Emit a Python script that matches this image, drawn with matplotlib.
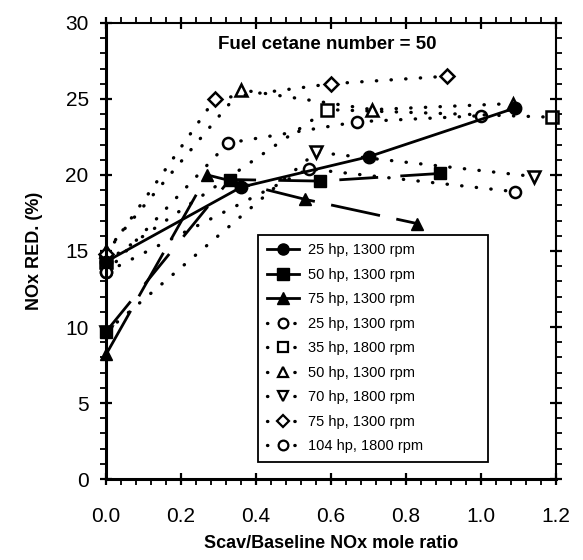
import numpy as np
from matplotlib import pyplot as plt
import matplotlib.lines as mlines
from matplotlib.ticker import MultipleLocator

plt.rcParams['font.family'] = ['Liberation Sans', 'DejaVu Sans']

# scav/baseline NOx mole ratio and NOx reduction (%) for each engine condition
x_25s = [0.0, 0.36, 0.70, 1.09]
y_25s = [14.3, 19.2, 21.2, 24.4]
x_50s = [0.0, 0.33, 0.57, 0.89]
y_50s = [9.7, 19.7, 19.6, 20.1]
x_75s = [0.0, 0.27, 0.53, 0.83]
y_75s = [8.2, 20.0, 18.4, 16.8]

x_25o = [0.0, 0.325, 0.67, 1.0]
y_25o = [13.6, 22.1, 23.5, 23.9]
x_35o = [0.0, 0.59, 1.19]
y_35o = [14.3, 24.3, 23.8]
x_50o = [0.0, 0.36, 0.71, 1.085]
y_50o = [15.0, 25.6, 24.3, 24.7]
x_70o = [0.0, 0.56, 1.14]
y_70o = [9.7, 21.5, 19.9]
x_75o = [0.0, 0.29, 0.60, 0.91]
y_75o = [14.8, 25.0, 26.0, 26.5]
x_104o = [0.0, 0.54, 1.09]
y_104o = [13.6, 20.4, 18.9]

fig = plt.figure(figsize=(5.83, 5.60), dpi=100)
ax = fig.add_axes([0.182, 0.1446, 0.772, 0.8144])

dot = dict(color='black', lw=2.4, linestyle=(0, (0.1, 4.3)), dash_capstyle='round',
           markerfacecolor='white', markeredgecolor='black', markeredgewidth=1.8,
           markersize=8, clip_on=False)
sol = dict(color='black', lw=2, markersize=9, clip_on=False)

# dotted (open symbols) first so the solid ones sit on top
ax.plot(x_25o, y_25o, marker='o', label='25 hp, 1300 rpm', **dot)
ax.plot(x_35o, y_35o, marker='s', label='35 hp, 1800 rpm', **dot)
ax.plot(x_50o, y_50o, marker='^', label='50 hp, 1300 rpm', **dot)
ax.plot(x_70o, y_70o, marker='v', label='70 hp, 1800 rpm', **dot)
ax.plot(x_75o, y_75o, marker='D', label='75 hp, 1300 rpm', **{**dot, 'markersize': 7})
ax.plot(x_104o, y_104o, marker='o', label='104 hp, 1800 rpm', **dot)

ax.plot(x_25s, y_25s, marker='o', linestyle='-', label='25 hp, 1300 rpm', **sol)
ax.plot(x_50s, y_50s, marker='s', linestyle=(0, (14, 8)), label='50 hp, 1300 rpm', **sol)
ax.plot(x_75s, y_75s, marker='^', linestyle=(0, (18, 6)), label='75 hp, 1300 rpm', **sol)

h, lab = ax.get_legend_handles_labels()
order = [6, 7, 8, 0, 1, 2, 3, 4, 5]
handles = []
for i in order:
    src = h[i]
    if i >= 6:
        hh = mlines.Line2D([], [], color='black', lw=2, marker=src.get_marker(), markersize=8)
    else:
        hh = mlines.Line2D([], [], color='black', lw=2.4, linestyle=(0, (0.1, 4.0)),
                           dash_capstyle='round', marker=src.get_marker(),
                           markerfacecolor='white', markeredgecolor='black',
                           markeredgewidth=1.6, markersize=7 if src.get_marker() != 'D' else 6)
    handles.append(hh)
leg = ax.legend(handles, [lab[i] for i in order], loc='lower left',
                bbox_to_anchor=(0.338, 0.037, 0.511, 0.503), mode='expand',
                borderaxespad=0, fontsize=10.5, labelspacing=0.72, handlelength=2.2,
                handletextpad=0.6, fancybox=False, framealpha=1, edgecolor='black',
                borderpad=0.6)
leg.get_frame().set_linewidth(1.3)

ax.text(0.59, 28.6, 'Fuel cetane number = 50', ha='center', va='center',
        fontsize=13.5, fontweight='bold')

ax.set_xlim(0, 1.2)
ax.set_ylim(0, 30)
ax.xaxis.set_major_locator(MultipleLocator(0.2))
ax.xaxis.set_minor_locator(MultipleLocator(0.04))
ax.yaxis.set_major_locator(MultipleLocator(5))
ax.yaxis.set_minor_locator(MultipleLocator(1))
ax.set_xticks(np.arange(0, 1.21, 0.2))
ax.set_xticklabels(['0.0', '0.2', '0.4', '0.6', '0.8', '1.0', '1.2'])

ax.tick_params(which='major', direction='inout', length=9, width=1.6, labelsize=15,
               top=True, right=True, pad=8)
ax.tick_params(which='minor', direction='out', length=4, width=1.3, top=True, right=True)
ax.tick_params(axis='x', which='major', pad=16)

for s in ['left', 'bottom']:
    ax.spines[s].set_linewidth(2.2)
for s in ['top', 'right']:
    ax.spines[s].set_linewidth(1.5)

ax.set_xlabel('Scav/Baseline NOx mole ratio', fontsize=13, fontweight='bold', labelpad=6)
ax.set_ylabel('NOx RED. (%)', fontsize=13, fontweight='bold', labelpad=16)

fig.savefig('out.png', dpi=100)
